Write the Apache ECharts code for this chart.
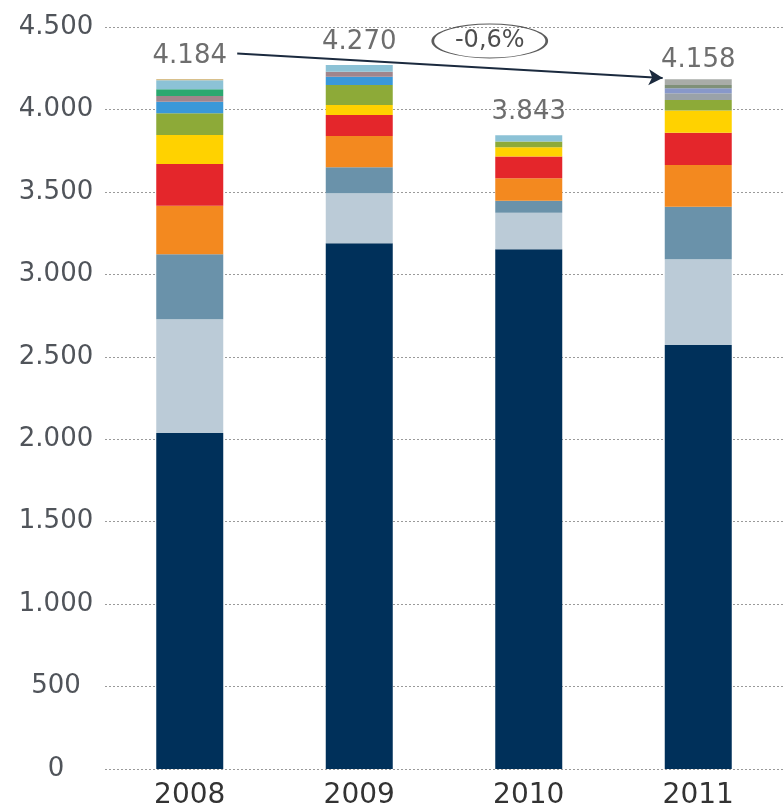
<!DOCTYPE html>
<html><head><meta charset="utf-8">
<script src="https://cdn.jsdelivr.net/npm/echarts@6/dist/echarts.min.js"></script>
<style>html,body{margin:0;padding:0;background:#fff}#c{width:783px;height:811px}</style>
</head><body><div id="c"></div>
<script>
const years = ['2008','2009','2010','2011'];
const totals = [4184, 4270, 3843, 4158];
// stacked segments, bottom to top
const navy      = [2038, 3188, 3152, 2572];
const lightGrey = [689, 304, 222, 519];
const steel     = [395, 157, 73, 319];
const orange    = [294, 190, 136, 253];
const red       = [253, 128, 131, 196];
const yellow    = [176, 60, 57, 134];
const olive     = [132, 121, 34, 64];
const blue      = [70, 51, 0, 0];
const mauve     = [35, 30, 0, 0];
const green     = [40, 0, 0, 0];
const teal      = [55, 41, 38, 0];
const tan       = [7, 0, 0, 0];
const slate     = [0, 0, 0, 41];
const periwinkle= [0, 0, 0, 30];
const darkGrey  = [0, 0, 0, 20];
const topGrey   = [0, 0, 0, 35];
const yTicks = [0,500,1000,1500,2000,2500,3000,3500,4000,4500];
const changeText = '-0,6%';
// annotation positions in data space (x on hidden 0..4 value axis)
const arrowFrom = [0.78, 4340];
const arrowTo = [3.29, 4190];
const changePos = [2.27, 4415];

const segs = [
  [navy,'#00305A'],[lightGrey,'#BBCBD7'],[steel,'#6A92AA'],[orange,'#F3891F'],
  [red,'#E4262B'],[yellow,'#FFD200'],[olive,'#8DAA38'],[blue,'#3A98D8'],
  [mauve,'#A0858C'],[green,'#2BA870'],[teal,'#8CC2D6'],[tan,'#D8C08C'],
  [slate,'#9AA2A8'],[periwinkle,'#8898C9'],[darkGrey,'#7F9078'],[topGrey,'#A9ACA8']
];
const fmt = v => { const s = String(v); return s.length > 3 ? s.slice(0, s.length-3) + '.' + s.slice(-3) : s; };
const font = 'DejaVu Sans';
const series = segs.map(([d,c]) => ({
  type:'bar', stack:'t', data:d, barWidth:67, itemStyle:{color:c}, silent:true
}));
series.push({
  type:'scatter', data:totals, symbolSize:0,
  label:{show:true, position:'top', distance:10, formatter:p=>fmt(p.value), fontFamily:font, fontSize:26, color:'#4a4a4a'}
});
series.push({
  type:'scatter', xAxisIndex:1, data:[changePos], symbol:'circle', symbolSize:[114,34],
  itemStyle:{color:'rgba(0,0,0,0)', borderColor:'#333', borderWidth:1.5},
  label:{show:true, position:'inside', formatter:changeText, fontFamily:font, fontSize:24, color:'#222'},
  markLine:{silent:true, symbol:['none','arrow'], symbolSize:[12,14],
    lineStyle:{color:'#1B2A3E', width:2, type:'solid'}, label:{show:false},
    data:[[{coord:arrowFrom},{coord:arrowTo}]]}
});
const chart = echarts.init(document.getElementById('c'));
chart.setOption({
  animation:false,
  grid:{left:105, right:-6, top:27, bottom:42},
  xAxis:[
    {type:'category', data:years, axisLine:{show:false}, axisTick:{show:false},
     axisLabel:{fontFamily:font, fontSize:28, color:'#333', margin:13}},
    {type:'value', min:0, max:4, show:false}
  ],
  yAxis:{type:'value', min:0, max:4500, interval:500,
    axisLine:{show:false}, axisTick:{show:false},
    axisLabel:{fontFamily:font, fontSize:26, color:'#50545a', align:'center', margin:49, formatter:v=>fmt(v)},
    splitLine:{lineStyle:{color:'#9a9a9a', type:[2,2], width:1}}},
  series:series
});
</script></body></html>
